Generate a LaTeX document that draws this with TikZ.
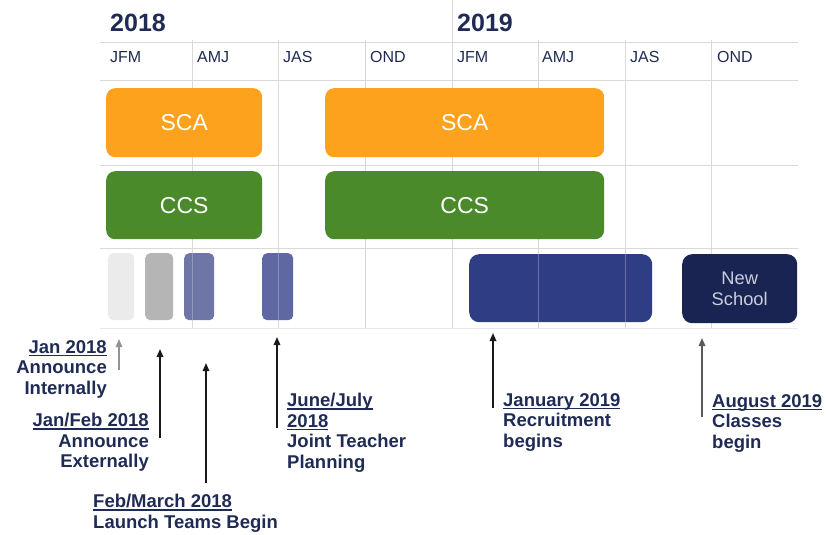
\documentclass[tikz,border=0pt]{standalone}
\usepackage{fontspec}
\setmainfont{Liberation Sans}
\usetikzlibrary{arrows.meta}
\definecolor{navy}{HTML}{1F2B55}
\definecolor{gridc}{HTML}{D9D9D9}
\definecolor{orangec}{HTML}{FCA21C}
\definecolor{greenc}{HTML}{4A8A2B}
\definecolor{lightg}{HTML}{EBEBEB}
\definecolor{midg}{HTML}{B5B5B5}
\definecolor{slate1}{HTML}{6E76A8}
\definecolor{slate2}{HTML}{5F68A3}
\definecolor{bigblue}{HTML}{2F3D85}
\definecolor{darknavy}{HTML}{1A2452}
\definecolor{schooltxt}{HTML}{C9CEDC}
\newcommand\ulx[1]{\begingroup\setbox0\hbox{#1}\rlap{\rule[-3pt]{\wd0}{1.2pt}}\box0\endgroup}
\tikzset{
  gridline/.style={draw=gridc, line width=0.9pt},
  bar/.style={draw=none, rounded corners=9pt, anchor=north west, inner sep=0pt, text=white,
     font=\fontsize{23}{26}\selectfont},
  smallbar/.style={draw=none, rounded corners=5pt, anchor=north west, inner sep=0pt},
  yearlbl/.style={anchor=base west, inner sep=0pt, text=navy, font=\bfseries\fontsize{25}{28}\selectfont},
  monthlbl/.style={anchor=base west, inner sep=0pt, text=navy, font=\fontsize{16}{18}\selectfont},
  ann/.style={inner sep=0pt, text=navy, font=\bfseries\fontsize{18.5}{20.5}\selectfont},
  arr/.style={-{Triangle[length=8pt,width=6.5pt]}, line width=1.6pt},
}
\begin{document}
\begin{tikzpicture}[x=1pt,y=-1pt]
\useasboundingbox (0,0) rectangle (827,535);
% grid
\foreach \yy in {42,80,165,248} \draw[gridline] (100,\yy) -- (798,\yy);
\draw[gridline, opacity=0.6] (100,328) -- (798,328);
\foreach \xx in {192,278,365,538,625,711} \draw[gridline] (\xx,40) -- (\xx,328);
\draw[gridline] (452,0) -- (452,328);
% headers
\node[yearlbl] (y18) at (110,32) {2018};
\node[yearlbl] (y19) at (457,32) {2019};
\node[monthlbl] (m1) at (110,63) {JFM};
\node[monthlbl] (m2) at (197,63) {AMJ};
\node[monthlbl] (m3) at (283,63) {JAS};
\node[monthlbl] (m4) at (370,63) {OND};
\node[monthlbl] (m5) at (457,63) {JFM};
\node[monthlbl] (m6) at (542,63) {AMJ};
\node[monthlbl] (m7) at (630,63) {JAS};
\node[monthlbl] (m8) at (717,63) {OND};
% bars
\node[bar, fill=orangec, minimum width=156pt, minimum height=69pt] (sca1) at (106,88) {SCA};
\node[bar, fill=orangec, minimum width=279pt, minimum height=69pt] (sca2) at (325,88) {SCA};
\node[bar, fill=greenc, minimum width=156pt, minimum height=68pt] (ccs1) at (106,171) {CCS};
\node[bar, fill=greenc, minimum width=279pt, minimum height=68pt] (ccs2) at (325,171) {CCS};
\node[smallbar, fill=lightg, minimum width=26pt, minimum height=67pt] (s1) at (108,253) {};
\node[smallbar, fill=midg, minimum width=28pt, minimum height=67pt] (s2) at (145,253) {};
\node[smallbar, fill=slate1, minimum width=30pt, minimum height=67pt] (s3) at (184,253) {};
\node[smallbar, fill=slate2, minimum width=31pt, minimum height=67pt] (s4) at (262,253) {};
\node[bar, rounded corners=10pt, fill=bigblue, minimum width=183pt, minimum height=68pt] (recr) at (469,254) {};
\node[bar, rounded corners=10pt, fill=darknavy, minimum width=115pt, minimum height=69pt, text=schooltxt,
      align=center, font=\fontsize{18.3}{21}\selectfont] (news) at (682,254) {New\\School};
% faint grid over third row
\foreach \xx in {192,278,538,625} \draw[gridline, opacity=0.35] (\xx,252) -- (\xx,328);
% annotations
\node[ann, anchor=north east, align=right] (t1) at (107,340) {\ulx{Jan 2018}\\Announce\\Internally};
\node[ann, anchor=north east, align=right] (t2) at (149,413) {\ulx{Jan/Feb 2018}\\Announce\\Externally};
\node[ann, anchor=north west, align=left] (t3) at (93,494) {\ulx{Feb/March 2018}\\Launch Teams Begin};
\node[ann, anchor=north west, align=left] (t4) at (287,393) {\ulx{June/July}\\\ulx{2018}\\Joint Teacher\\Planning};
\node[ann, anchor=north west, align=left] (t5) at (503,393) {\ulx{January 2019}\\Recruitment\\begins};
\node[ann, anchor=north west, align=left] (t6) at (712,394) {\ulx{August 2019}\\Classes\\begin};
% arrows
\coordinate (a1s) at (119,370); \coordinate (a1e) at (119,339);
\coordinate (a2s) at (160,438); \coordinate (a2e) at (160,349);
\coordinate (a3s) at (206,483); \coordinate (a3e) at (206,363);
\coordinate (a4s) at (277,428); \coordinate (a4e) at (277,337);
\coordinate (a5s) at (493,408); \coordinate (a5e) at (493,333);
\coordinate (a6s) at (702,417); \coordinate (a6e) at (702,338);
\draw[arr, draw=gray!85, line width=1.3pt] (a1s) -- (a1e);
\draw[arr, draw=black!90] (a2s) -- (a2e);
\draw[arr, draw=black!90] (a3s) -- (a3e);
\draw[arr, draw=black!90] (a4s) -- (a4e);
\draw[arr, draw=black!90] (a5s) -- (a5e);
\draw[arr, draw=black!65] (a6s) -- (a6e);
\end{tikzpicture}
\end{document}
